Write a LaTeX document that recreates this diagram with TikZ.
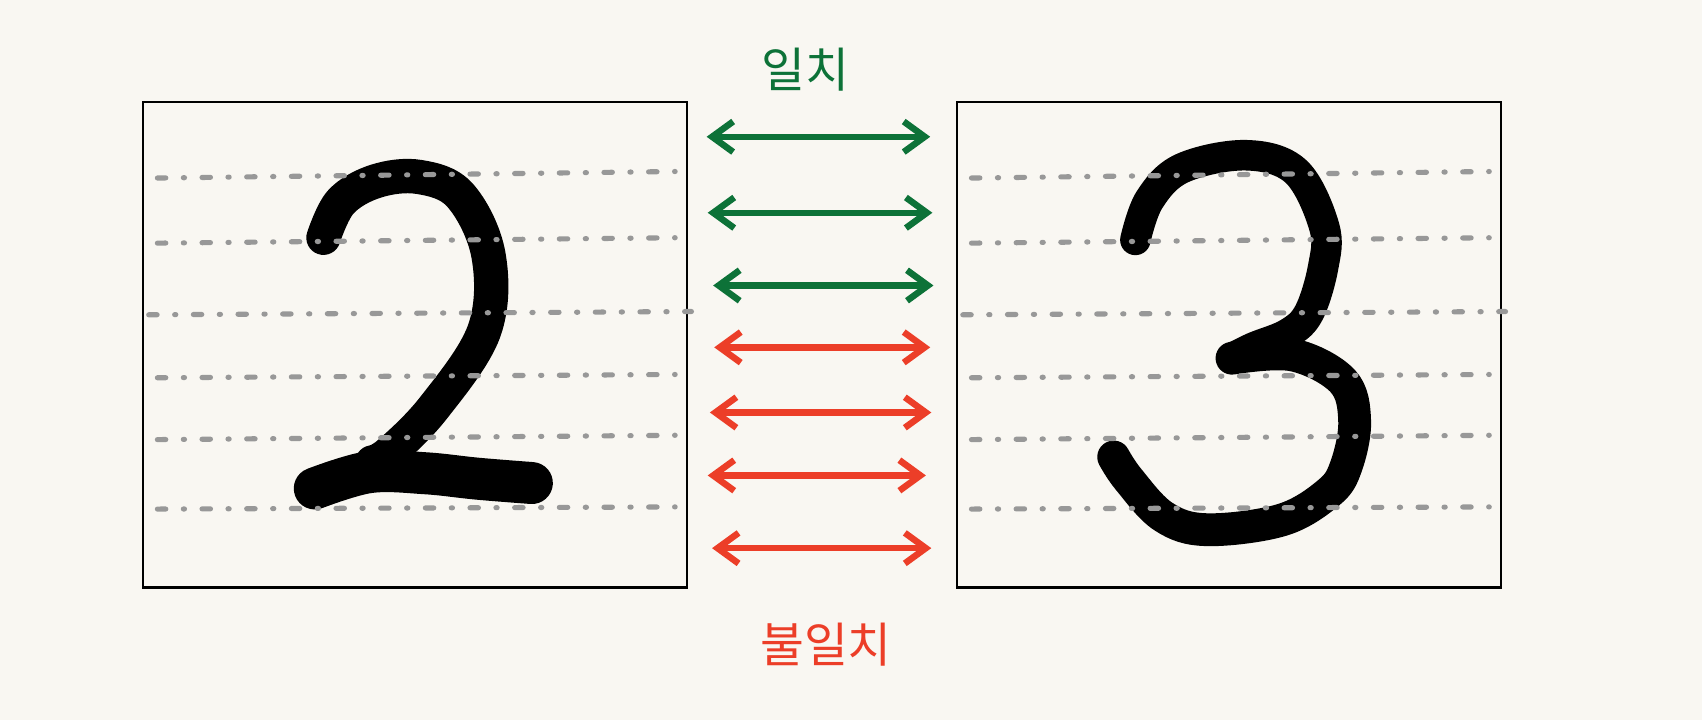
\documentclass[tikz,border=0pt]{standalone}
\usepackage{fontspec}
\newfontfamily\krfont{Noto Sans CJK KR}
\usepackage{tikz}
\usetikzlibrary{arrows.meta, positioning}
\definecolor{PaperCream}{RGB}{249, 247, 242}
\definecolor{MatchGreen}{RGB}{13, 114, 56}
\definecolor{MismatchRed}{RGB}{236, 62, 40}
\definecolor{GuideGray}{RGB}{152, 152, 152}

\begin{document}
\begin{tikzpicture}[
		x=0.01cm, y=-0.01cm,
		digitBox/.style={
			rectangle, draw=black, line width=0.6pt, fill=none,
			minimum width=5.01cm, minimum height=4.47cm, inner sep=0pt
		},
		guide/.style={GuideGray, line width=1.35pt, line cap=round,
			dash pattern=on 2.2pt off 4.6pt on 0.3pt off 4.6pt},
		ink/.style={black, line width=9pt, line cap=round, line join=round},
		barbs/.style={{Straight Barb[length=5.5pt, width=8pt]}-{Straight Barb[length=5.5pt, width=8pt]}, line width=1.7pt, line cap=round},
		matchArrow/.style={barbs, MatchGreen},
		mismatchArrow/.style={barbs, MismatchRed},
		label/.style={inner sep=0pt, font=\krfont}
		]
		
		\fill[PaperCream] (0,0) rectangle (1568,663);
		\useasboundingbox (0,0) rectangle (1568,663);
		
		% the two boxes
		\node[digitBox] (leftBox) at (382.5,317.5) {};
		\node[digitBox] (rightBox) at (1132.5,317.5) {};
		
		% digit 2
		\draw[ink] plot[smooth, tension=0.6] coordinates {(298,219) (314,186) (346,167) (386,163) (424,180) (450,235) (446,305) (400,375) (359,417) (343,426)};
		\draw[ink, line width=11pt] plot[smooth, tension=0.6] coordinates {(290,450) (340,435) (392,436) (440,441) (490,445)};
		
		% digit 3
		\draw[ink, line width=8pt] plot[smooth, tension=0.6] coordinates {(1046,221) (1059,184) (1089,155) (1148,143) (1194,158) (1220,209) (1219,246) (1206,288) (1187,307) (1155,320) (1135,330)};
		\draw[ink, line width=8.6pt] plot[smooth, tension=0.6] coordinates {(1135,330) (1191,327) (1237,351) (1248,388) (1240,430) (1224,454) (1181,479) (1112,488) (1072,476) (1040,442) (1026,421)};
		
		% guide lines, left box
		\draw[guide] (145,164) -- (622,158);
		\draw[guide] (145,224) -- (622,219);
		\draw[guide] (137,290) -- (637,287);
		\draw[guide] (145,348) -- (622,345);
		\draw[guide] (145,405) -- (622,401);
		\draw[guide] (145,469) -- (622,467);
		
		% guide lines, right box
		\draw[guide] (895,164) -- (1372,158);
		\draw[guide] (895,224) -- (1372,219);
		\draw[guide] (887,290) -- (1387,287);
		\draw[guide] (895,348) -- (1372,345);
		\draw[guide] (895,405) -- (1372,401);
		\draw[guide] (895,469) -- (1372,467);
		
		% arrow ends
		\coordinate (m1l) at (651,126); \coordinate (m1r) at (857,126);
		\coordinate (m2l) at (652,196); \coordinate (m2r) at (859,196);
		\coordinate (m3l) at (657,263); \coordinate (m3r) at (860,263);
		\coordinate (u1l) at (658,320); \coordinate (u1r) at (857,320);
		\coordinate (u2l) at (654,380); \coordinate (u2r) at (858,380);
		\coordinate (u3l) at (652,438); \coordinate (u3r) at (853,438);
		\coordinate (u4l) at (656,505); \coordinate (u4r) at (858,505);
		
		\draw [matchArrow] (m1l) -- (m1r);
		\draw [matchArrow] (m2l) -- (m2r);
		\draw [matchArrow] (m3l) -- (m3r);
		\draw [mismatchArrow] (u1l) -- (u1r);
		\draw [mismatchArrow] (u2l) -- (u2r);
		\draw [mismatchArrow] (u3l) -- (u3r);
		\draw [mismatchArrow] (u4l) -- (u4r);
		
		\node[label, text=MatchGreen, font=\krfont\fontsize{12.5}{14}\selectfont] (matchLabel) at (742,64) {일치};
		\node[label, text=MismatchRed, font=\krfont\fontsize{12.5}{14}\selectfont] (mismatchLabel) at (761,594) {불일치};
	\end{tikzpicture}
\end{document}
